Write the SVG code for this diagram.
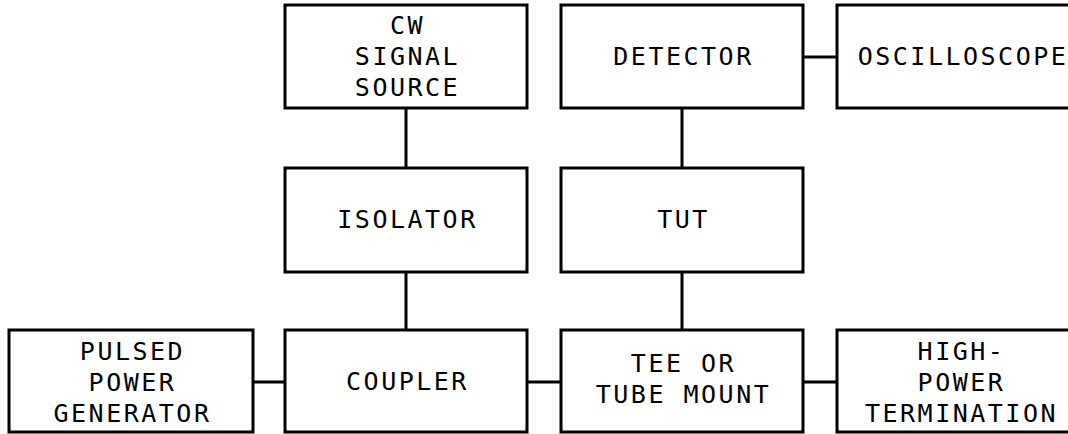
<svg xmlns="http://www.w3.org/2000/svg" width="1068" height="434" viewBox="0 0 1068 434">
<style>
.box{fill:#fff;stroke:#000;stroke-width:3}
.con line{stroke:#000;stroke-width:3}
text{font-family:"DejaVu Sans Mono","Liberation Mono",monospace;font-size:25px;letter-spacing:2.5px;text-anchor:middle;fill:#000}
</style>
<rect width="1068" height="434" fill="#fff"/>
<g id="connectors" class="con">
<line x1="406" y1="108" x2="406" y2="168"/>
<line x1="406" y1="272" x2="406" y2="330"/>
<line x1="682" y1="108" x2="682" y2="168"/>
<line x1="682" y1="272" x2="682" y2="330"/>
<line x1="803" y1="57" x2="837" y2="57"/>
<line x1="253" y1="382" x2="285" y2="382"/>
<line x1="527" y1="382" x2="561" y2="382"/>
<line x1="803" y1="382" x2="837" y2="382"/>
</g>
<g id="cw-source">
<rect class="box" x="285" y="5" width="242" height="103"/>
<text x="407.5" y="34">CW</text>
<text x="407.5" y="65">SIGNAL</text>
<text x="407.5" y="96">SOURCE</text>
</g>
<g id="detector">
<rect class="box" x="561" y="5" width="242" height="103"/>
<text x="683.5" y="65">DETECTOR</text>
</g>
<g id="oscilloscope">
<rect class="box" x="837" y="5" width="246" height="103"/>
<text x="963" y="65">OSCILLOSCOPE</text>
</g>
<g id="isolator">
<rect class="box" x="285" y="168" width="242" height="104"/>
<text x="407.5" y="228">ISOLATOR</text>
</g>
<g id="tut">
<rect class="box" x="561" y="168" width="242" height="104"/>
<text x="683.5" y="228">TUT</text>
</g>
<g id="pulsed-generator">
<rect class="box" x="9" y="330" width="244" height="102"/>
<text x="132.5" y="360">PULSED</text>
<text x="132.5" y="391">POWER</text>
<text x="132.5" y="422">GENERATOR</text>
</g>
<g id="coupler">
<rect class="box" x="285" y="330" width="242" height="102"/>
<text x="407.5" y="390">COUPLER</text>
</g>
<g id="tee-mount">
<rect class="box" x="561" y="330" width="242" height="102"/>
<text x="683.5" y="372">TEE OR</text>
<text x="683.5" y="403">TUBE MOUNT</text>
</g>
<g id="termination">
<rect class="box" x="837" y="330" width="246" height="102"/>
<text x="961.5" y="360">HIGH-</text>
<text x="961.5" y="391">POWER</text>
<text x="961.5" y="422">TERMINATION</text>
</g>
</svg>
